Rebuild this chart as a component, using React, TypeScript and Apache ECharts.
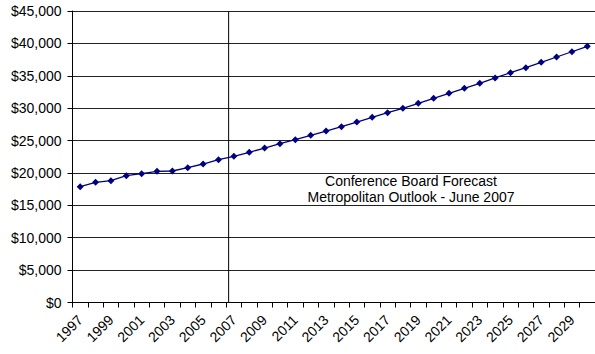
import React, { useEffect, useRef } from "react";
import * as echarts from "echarts";

const years: string[] = [
  "1997","1998","1999","2000","2001","2002","2003","2004","2005","2006",
  "2007","2008","2009","2010","2011","2012","2013","2014","2015","2016",
  "2017","2018","2019","2020","2021","2022","2023","2024","2025","2026",
  "2027","2028","2029","2030",
];

const income: number[] = [
  17880, 18560, 18800, 19580, 19880, 20250, 20300, 20810, 21380, 22050,
  22570, 23180, 23850, 24520, 25140, 25800, 26470, 27140, 27860, 28590,
  29300, 29980, 30750, 31520, 32290, 33070, 33840, 34660, 35480, 36250,
  37070, 37900, 38710, 39550,
];

const yTicks = { min: 0, max: 45000, interval: 5000 };
const forecastStart = 2006.66; // position of the vertical divider, in years
const noteLines: string[] = ["Conference Board Forecast", "Metropolitan Outlook - June 2007"];

const FONT = "Liberation Sans, Arial, sans-serif";

export default function App() {
  const ref = useRef<HTMLDivElement>(null);
  useEffect(() => {
    if (!ref.current) return;
    const chart = echarts.init(ref.current, null, { renderer: "svg" });
    chart.setOption({
      animation: false,
      backgroundColor: "#fff",
      grid: { left: 72.5, top: 11, width: 527.5, bottom: 51.5, containLabel: false },
      xAxis: [
        {
          type: "category",
          data: years,
          boundaryGap: true,
          axisLine: { lineStyle: { color: "#000", width: 1 } },
          axisTick: { show: true, interval: 0, length: 5, lineStyle: { color: "#000" } },
          axisLabel: {
            interval: 1,
            rotate: 45,
            fontSize: 14,
            fontFamily: FONT,
            color: "#000",
            margin: 15,
          },
          splitLine: { show: false },
        },
        {
          type: "value",
          min: 1996.5,
          max: 2030.5,
          show: false,
          position: "bottom",
        },
      ],
      yAxis: {
        type: "value",
        min: yTicks.min,
        max: yTicks.max,
        interval: yTicks.interval,
        axisLine: { show: true, lineStyle: { color: "#000", width: 1 } },
        axisTick: { show: true, length: 5, lineStyle: { color: "#000" } },
        axisLabel: {
          fontSize: 14,
          fontFamily: FONT,
          color: "#000",
          margin: 11,
          formatter: (v: number) => "$" + v.toLocaleString("en-US"),
        },
        splitLine: { show: true, lineStyle: { color: "#222", width: 1 } },
      },
      series: [
        {
          type: "line",
          data: income,
          xAxisIndex: 0,
          symbol: "diamond",
          symbolSize: 7,
          itemStyle: { color: "#000080" },
          lineStyle: { color: "#000080", width: 1.3 },
          z: 3,
        },
        {
          type: "line",
          xAxisIndex: 1,
          data: [
            [forecastStart, yTicks.min],
            [forecastStart, yTicks.max],
          ],
          symbol: "none",
          lineStyle: { color: "#000", width: 1 },
          z: 2,
        },
      ],
      graphic: [
        {
          type: "group",
          z: 50,
          children: [
            {
              type: "rect",
              shape: { x: 293, y: 166, width: 236, height: 48 },
              style: { fill: "#fff" },
            },
            {
              type: "text",
              x: 411,
              y: 180.5,
              style: {
                text: noteLines[0],
                font: `14px ${FONT}`,
                fill: "#000",
                align: "center",
                verticalAlign: "middle",
              },
            },
            {
              type: "text",
              x: 411,
              y: 197,
              style: {
                text: noteLines[1],
                font: `14px ${FONT}`,
                fill: "#000",
                align: "center",
                verticalAlign: "middle",
              },
            },
          ],
        },
      ],
    });
    return () => chart.dispose();
  }, []);
  return <div ref={ref} style={{ width: 595, height: 354, position: "absolute", left: 0, top: 0 }} />;
}
